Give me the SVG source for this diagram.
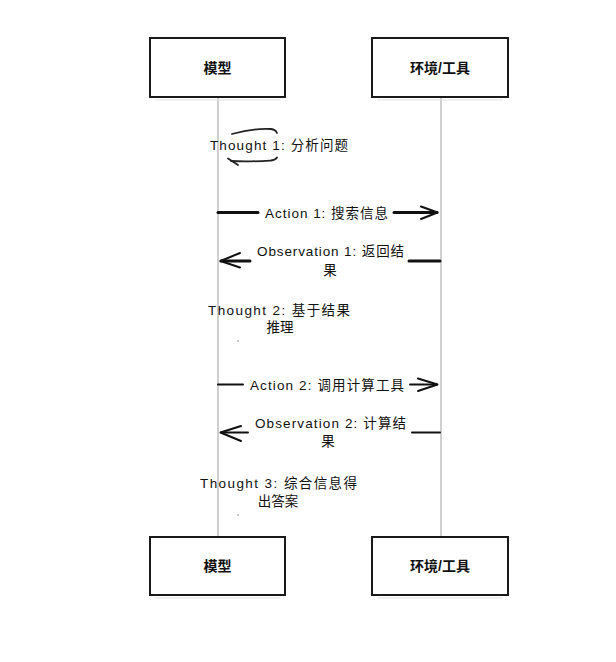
<svg xmlns="http://www.w3.org/2000/svg" width="616" height="662" viewBox="0 0 616 662">
<style>
.box{fill:#fff;stroke:#1a1a1a;stroke-width:2}
.shade{stroke:#e2e2e2;stroke-width:1.2;fill:none}
.life{stroke:#c4c4c4;stroke-width:1.6;fill:none}
.lbl{font-family:"Liberation Sans","Noto Sans CJK SC",sans-serif;font-size:14px;font-weight:600;fill:#111;text-anchor:middle}
.msg{font-family:"Liberation Sans","Noto Sans CJK SC",sans-serif;font-size:13.5px;fill:#111}
.mid{text-anchor:middle}
.ln{stroke:#111;stroke-width:2;fill:none;stroke-linecap:round;stroke-linejoin:round}
.thick{stroke-width:3}
.scr{stroke:#222;stroke-width:1.8;fill:none;stroke-linecap:round}
</style>
<rect width="616" height="662" fill="#fff"/>
<g id="lifelines">
<line class="life" x1="218" y1="98" x2="218" y2="537"/>
<line class="life" x1="441" y1="98" x2="441" y2="537"/>
</g>
<g id="model-top">
<rect class="box" x="150" y="38" width="135" height="59"/>
<line class="shade" x1="155" y1="100" x2="280" y2="100"/>
<text class="lbl" x="217.5" y="73">模型</text>
</g>
<g id="env-top">
<rect class="box" x="372" y="38" width="136" height="59"/>
<line class="shade" x1="377" y1="100" x2="503" y2="100"/>
<text class="lbl" x="440" y="73">环境/工具</text>
</g>
<g id="model-bottom">
<rect class="box" x="150" y="537" width="135" height="58"/>
<line class="shade" x1="155" y1="598" x2="280" y2="598"/>
<text class="lbl" x="217.5" y="571">模型</text>
</g>
<g id="env-bottom">
<rect class="box" x="372" y="537" width="136" height="58"/>
<line class="shade" x1="377" y1="598" x2="503" y2="598"/>
<text class="lbl" x="440" y="571">环境/工具</text>
</g>
<g id="notes">
<g id="thought1">
<path class="scr" d="M232 134 C246 130 262 128.5 271 129 Q275.5 129.5 277 133"/>
<path class="scr" d="M231 161 C248 162 263 161 271 160.5 Q275.5 160 277 157.5"/>
<path class="scr" d="M228 158.5 L238 165"/>
<text class="msg" x="210" y="150" textLength="138" lengthAdjust="spacing">Thought 1: 分析问题</text>
</g>
<g id="thought2">
<text class="msg" x="208" y="315" textLength="142" lengthAdjust="spacing">Thought 2: 基于结果</text>
<text class="msg mid" x="280" y="332">推理</text>
<circle cx="238" cy="341" r="0.7" fill="#666"/>
</g>
<g id="thought3">
<text class="msg" x="200" y="488" textLength="157" lengthAdjust="spacing">Thought 3: 综合信息得</text>
<text class="msg mid" x="278" y="506">出答案</text>
<circle cx="238" cy="515" r="0.7" fill="#666"/>
</g>
</g>
<g id="connectors">
<g id="action1">
<line class="ln thick" x1="218" y1="212.5" x2="258" y2="212.5"/>
<line class="ln thick" x1="394" y1="212.5" x2="437" y2="212.5"/>
<path class="ln" d="M421 206.5 L437.5 212.5 L421 219"/>
<text class="msg" x="265" y="217.5" textLength="123" lengthAdjust="spacing">Action 1: 搜索信息</text>
</g>
<g id="obs1">
<line class="ln thick" x1="409" y1="261" x2="440" y2="261"/>
<line class="ln thick" x1="221" y1="261" x2="250" y2="261"/>
<path class="ln" d="M240 253 L220.5 261 L240 267.5"/>
<text class="msg" x="257" y="256" textLength="147" lengthAdjust="spacing">Observation 1: 返回结</text>
<text class="msg mid" x="330" y="275">果</text>
</g>
<g id="action2">
<line class="ln" x1="218" y1="384.5" x2="243" y2="384.5"/>
<line class="ln" x1="410" y1="384.5" x2="437" y2="384.5"/>
<path class="ln" d="M418 378.5 L437.5 384.5 L418 391"/>
<text class="msg" x="250" y="389.5" textLength="154" lengthAdjust="spacing">Action 2: 调用计算工具</text>
</g>
<g id="obs2">
<line class="ln" x1="412" y1="432.5" x2="440" y2="432.5"/>
<line class="ln" x1="221" y1="432.5" x2="248" y2="432.5"/>
<path class="ln" d="M241 426 L220.5 432.5 L241 441"/>
<text class="msg" x="255" y="428" textLength="151" lengthAdjust="spacing">Observation 2: 计算结</text>
<text class="msg mid" x="328" y="446">果</text>
</g>
</g>
</svg>
